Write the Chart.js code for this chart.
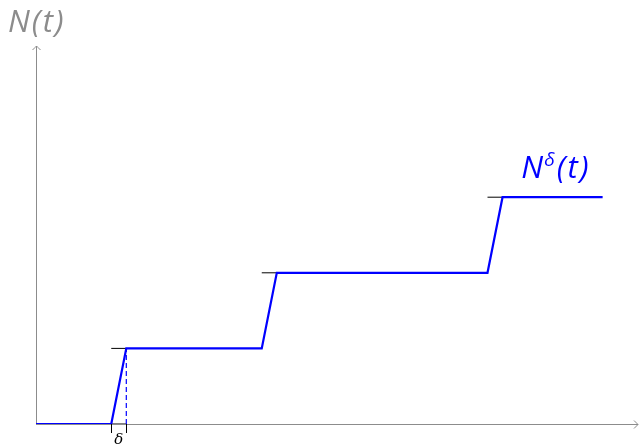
<!DOCTYPE html>
<html>
<head>
<meta charset="utf-8">
<script src="https://cdn.jsdelivr.net/npm/chart.js@4"></script>
<style>
  html, body { margin: 0; padding: 0; background: #fff; }
  canvas { display: block; }
</style>
</head>
<body>
<canvas id="myChart" width="641" height="447"></canvas>
<script>
// jump times of N(t), the level reached after each jump, ramp width delta
const jumpTimes = [10, 30, 60];
const levels = [1, 2, 3];
const delta = 2;
const tEnd = 75.3;
const xMax = 80;
const yMax = 5;

// N^delta(t): flat, then a linear ramp of width delta at each jump
let stepData = [{ x: 0, y: 0 }];
jumpTimes.forEach((t, i) => {
    stepData.push({ x: t, y: levels[i] - 1 });
    stepData.push({ x: t + delta, y: levels[i] });
});
stepData.push({ x: tEnd, y: levels[levels.length - 1] });

// short black marks at each level between t and t+delta
let markSets = jumpTimes.map((t, i) => ({
    data: [{ x: t, y: levels[i] }, { x: t + delta, y: levels[i] }],
    borderColor: '#000', borderWidth: 1, showLine: true, pointRadius: 0, order: 2
}));
markSets.push({
    data: [{ x: jumpTimes[0], y: 0 }, { x: jumpTimes[0] + delta, y: 0 }],
    borderColor: '#000', borderWidth: 1, showLine: true, pointRadius: 0, order: 2
});

// draws text glyph by glyph with a bit of extra spacing
function spaced(c, parts, x, y) {
    parts.forEach(p => {
        c.font = p.font;
        c.fillText(p.s, x, y + (p.dy || 0));
        x += c.measureText(p.s).width + (p.gap || 0);
    });
}

// axes with arrows, tick marks and labels
const decor = {
    id: 'decor',
    beforeDatasetsDraw(chart) {
        const c = chart.ctx, xs = chart.scales.x, ys = chart.scales.y;
        const x0 = xs.getPixelForValue(0), y0 = ys.getPixelForValue(0);
        const x1 = xs.getPixelForValue(xMax), y1 = ys.getPixelForValue(yMax);
        c.save();
        c.strokeStyle = '#8c8c8c';
        c.lineWidth = 1;
        c.beginPath();
        c.moveTo(x0, y0 + 0.5); c.lineTo(x1, y0 + 0.5);
        c.moveTo(x0 + 0.5, y0); c.lineTo(x0 + 0.5, y1);
        // arrow heads
        c.moveTo(x1 - 4, y0 - 3.5); c.quadraticCurveTo(x1 - 1, y0 - 0.5, x1, y0 + 0.5);
        c.quadraticCurveTo(x1 - 1, y0 + 1.5, x1 - 4, y0 + 4.5);
        c.moveTo(x0 - 3.5, y1 + 4); c.quadraticCurveTo(x0 - 0.5, y1 + 1, x0 + 0.5, y1);
        c.quadraticCurveTo(x0 + 1.5, y1 + 1, x0 + 4.5, y1 + 4);
        c.stroke();
        c.restore();
    },
    afterDatasetsDraw(chart) {
        const c = chart.ctx, xs = chart.scales.x, ys = chart.scales.y;
        const y0 = ys.getPixelForValue(0);
        const a = xs.getPixelForValue(jumpTimes[0]), b = xs.getPixelForValue(jumpTimes[0] + delta);
        c.save();
        c.strokeStyle = '#000';
        c.lineWidth = 1;
        c.beginPath();
        c.moveTo(Math.round(a) + 0.5, y0); c.lineTo(Math.round(a) + 0.5, y0 + 9);
        c.moveTo(Math.round(b) + 0.5, y0); c.lineTo(Math.round(b) + 0.5, y0 + 9);
        c.stroke();
        c.fillStyle = '#000';
        c.font = 'italic 15px "DejaVu Serif"';
        c.textAlign = 'center';
        c.textBaseline = 'alphabetic';
        c.fillText('δ', (a + b) / 2, y0 + 20);

        const big = 'italic 31px "Open Sans"';
        c.textAlign = 'left';
        c.fillStyle = '#8c8c8c';
        spaced(c, [
            { s: 'N', font: big, gap: 2 },
            { s: '(', font: big, gap: 2 },
            { s: 't', font: big, gap: 2 },
            { s: ')', font: big }
        ], 8, 32);

        const lx = xs.getPixelForValue(64.5), ly = ys.getPixelForValue(levels[2]) - 19;
        c.fillStyle = '#0000ff';
        spaced(c, [
            { s: 'N', font: big, gap: 1 },
            { s: 'δ', font: 'italic 19px "Open Sans"', dy: -12, gap: 2 },
            { s: '(', font: big, gap: 2 },
            { s: 't', font: big, gap: 2 },
            { s: ')', font: big }
        ], lx, ly);
        c.restore();
    }
};

const ctx = document.getElementById('myChart').getContext('2d');
new Chart(ctx, {
    type: 'scatter',
    data: {
        datasets: [
            {
                data: stepData,
                borderColor: '#0000ff',
                borderWidth: 2.2,
                showLine: true,
                pointRadius: 0,
                order: 1
            },
            {
                data: [{ x: jumpTimes[0] + delta, y: 0 }, { x: jumpTimes[0] + delta, y: levels[0] }],
                borderColor: '#0000ff',
                borderWidth: 1.2,
                borderDash: [5, 3],
                showLine: true,
                pointRadius: 0,
                order: 1
            },
            ...markSets
        ]
    },
    options: {
        responsive: false,
        animation: false,
        layout: { padding: { left: 36, right: 3, top: 46, bottom: 23 } },
        plugins: { legend: { display: false }, tooltip: { enabled: false } },
        scales: {
            x: { type: 'linear', min: 0, max: xMax, display: false },
            y: { type: 'linear', min: 0, max: yMax, display: false }
        }
    },
    plugins: [decor]
});
</script>
</body>
</html>
